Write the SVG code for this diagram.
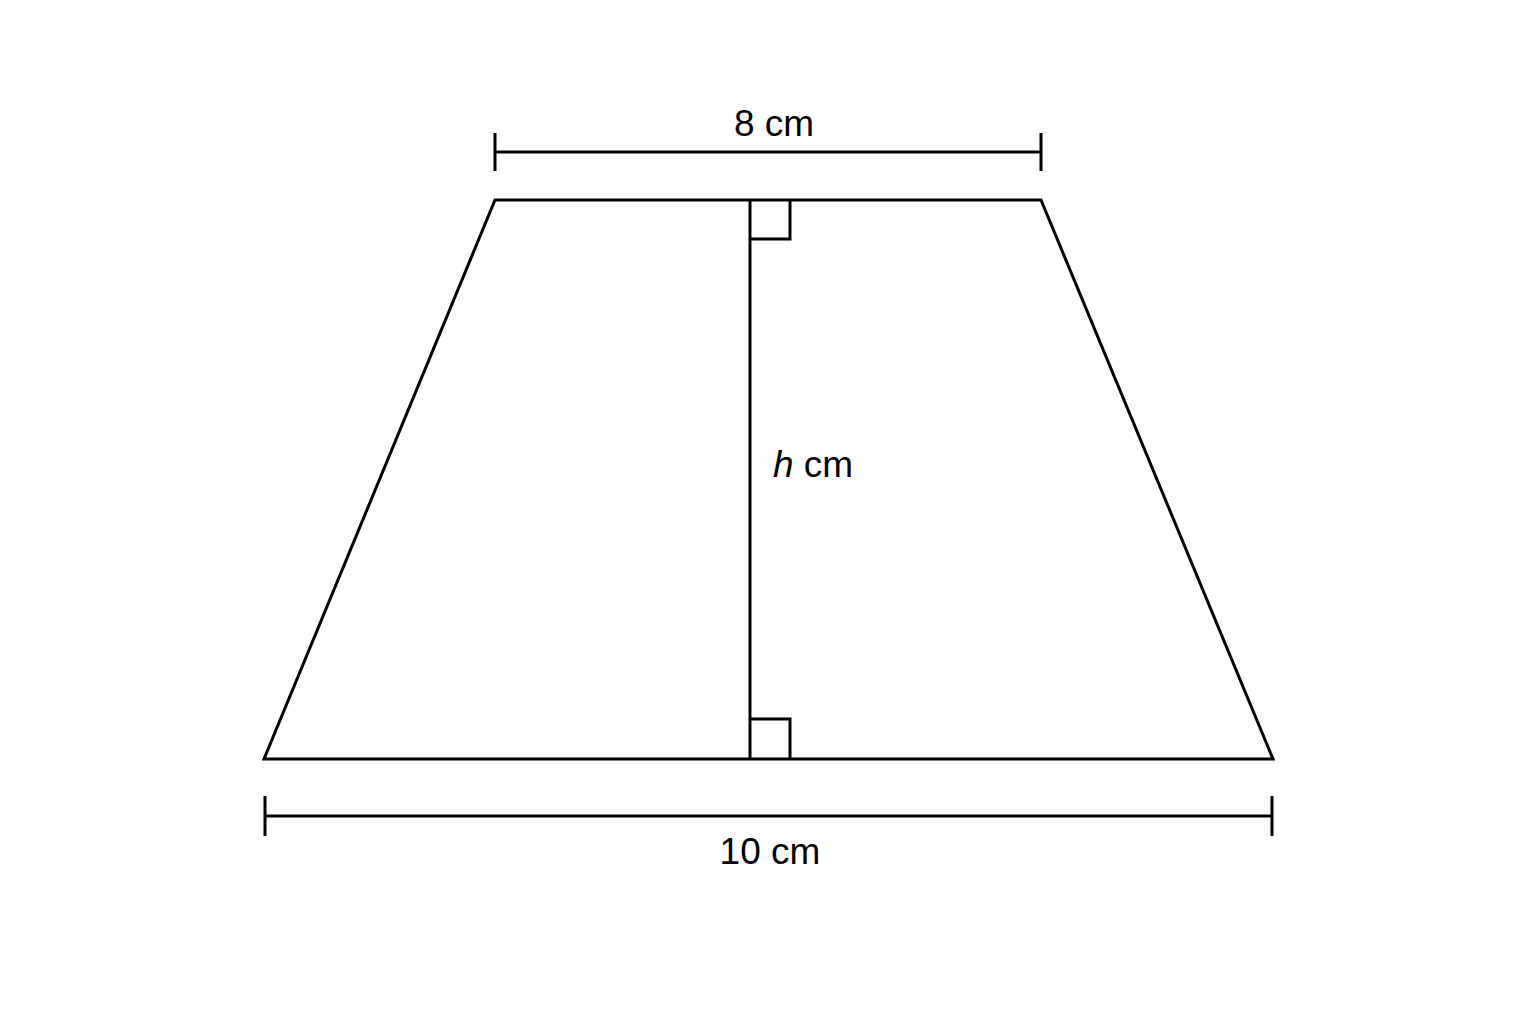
<svg xmlns="http://www.w3.org/2000/svg" width="1536" height="1024" viewBox="0 0 1536 1024">
<style>
.s{fill:none;stroke:#000;stroke-width:3;stroke-linejoin:miter}
.t{font-family:"Liberation Sans",Arial,sans-serif;font-size:37px;fill:#000}
</style>
<rect width="1536" height="1024" fill="#fff"/>
<g id="trapezoid">
<polygon class="s" points="495,200 1041,200 1273,759 264,759"/>
</g>
<g id="height">
<line class="s" x1="750" y1="200" x2="750" y2="759"/>
<polyline class="s" points="750,239 790,239 790,200"/>
<polyline class="s" points="750,719 790,719 790,759"/>
<text class="t" x="773" y="477"><tspan font-style="italic">h</tspan> cm</text>
</g>
<g id="top-dimension">
<line class="s" x1="495" y1="152" x2="1041" y2="152"/>
<line class="s" x1="495" y1="133" x2="495" y2="171"/>
<line class="s" x1="1041" y1="133" x2="1041" y2="171"/>
<text class="t" x="774" y="136" text-anchor="middle">8 cm</text>
</g>
<g id="bottom-dimension">
<line class="s" x1="265" y1="816" x2="1272" y2="816"/>
<line class="s" x1="265" y1="796" x2="265" y2="836"/>
<line class="s" x1="1272" y1="796" x2="1272" y2="836"/>
<text class="t" x="770" y="864" text-anchor="middle">10 cm</text>
</g>
</svg>
